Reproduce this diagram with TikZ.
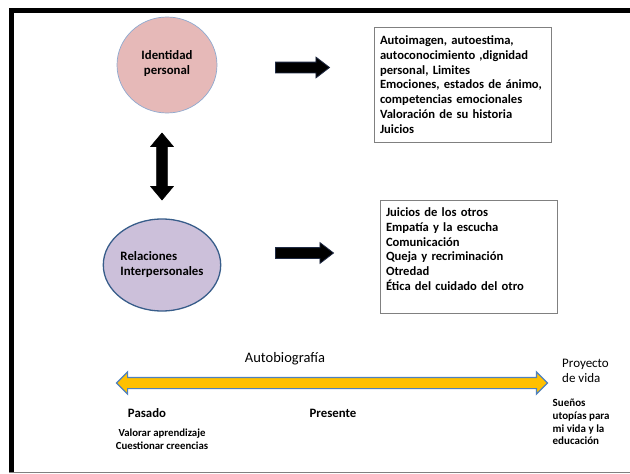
\documentclass[tikz,border=0pt]{standalone}
\usepackage{fontspec}
\setmainfont{Carlito}
\usetikzlibrary{shapes.geometric,shapes.arrows}
\definecolor{rosa}{HTML}{E6B9B8}
\definecolor{lila}{HTML}{CCC0DA}
\definecolor{bordeazul}{HTML}{385D8A}
\definecolor{bordeclaro}{HTML}{8EA9CF}
\definecolor{amarillo}{HTML}{FFC000}
\definecolor{azul}{HTML}{4F81BD}
\definecolor{marino}{HTML}{1F2A44}
\begin{document}
\begin{tikzpicture}[x=1pt,y=-1pt,
    tema/.style={ellipse,inner sep=0pt,font=\fontsize{12.8}{15}\selectfont\bfseries},
    lista/.style={draw=gray,line width=1pt,text width=165pt,inner xsep=6pt,inner ysep=6pt,align=left,
      font=\fontsize{12.6}{14.8}\selectfont\bfseries},
    flecha/.style={single arrow,fill=black,draw=marino,line width=0.8pt,inner xsep=0pt,inner ysep=5pt,
      minimum width=20pt,single arrow head extend=5pt,single arrow tip angle=75},
    etiqueta/.style={inner sep=0pt,align=left}]
      \tikzset{every node/.style={text=black}}
      \useasboundingbox (0,0) rectangle (630,474);
      \draw[gray,line width=1.5pt] (9,472.5) -- (630,472.5);
      \draw[line width=5pt,line join=miter] (11.5,472) -- (11.5,10) -- (630,10);
      \node[tema,fill=rosa,draw=bordeclaro,line width=0.7pt,minimum width=100pt,minimum height=96pt,align=center] (idper) at (167,65) {Identidad\\personal\\[-9pt]\mbox{}};
      \node[tema,fill=lila,draw=bordeazul,line width=1.3pt,minimum width=102pt,minimum height=92pt,align=left] (relint) at (162,265) {Relaciones\\Interpersonales};
      \node[flecha,minimum height=54pt] (fid) at (299,67.5) {};
      \node[flecha,minimum height=58pt] (frel) at (301,253) {};
      \node[lista,minimum height=115pt] (rasgos) at (462.5,84.5) {Autoimagen, autoestima,\\ autoconocimiento ,dignidad\\ personal, Limites\\ Emociones, estados de ánimo,\\ competencias emocionales\\ Valoración de su historia\\ Juicios};
      \node[lista,minimum height=113pt] (otros) at (468.5,256.5) {Juicios de los otros\\ Empatía y la escucha\\ Comunicación\\ Queja y recriminación\\ Otredad\\ Ética del cuidado del otro\\ \mbox{}};
      \node[double arrow,fill=black,draw=black,line width=0.6pt,rotate=90,inner xsep=0pt,inner ysep=5pt,minimum width=22pt,
        double arrow head extend=6pt,double arrow tip angle=80,minimum height=67pt] (vinculo) at (162,166.5) {};
      \node[double arrow,fill=amarillo,draw=azul,line width=1.2pt,inner xsep=0pt,inner ysep=5pt,minimum width=21pt,
        double arrow head extend=5.5pt,double arrow tip angle=90,minimum height=431pt] (tiempo) at (332,383) {};
      \node[font=\fontsize{14.5}{17}\selectfont] (autobio) at (285,359) {Autobiografía};
      \node[etiqueta,anchor=west,font=\fontsize{13}{15}\selectfont] (proyecto) at (562,370.5) {Proyecto\\de vida};
      \node[etiqueta,anchor=west,font=\fontsize{11}{12.6}\selectfont\bfseries] (suenos) at (552.5,422) {Sueños\\utopías para\\mi vida y la\\educación};
      \node[font=\fontsize{12.8}{15}\selectfont\bfseries] (pasado) at (147,413) {Pasado};
      \node[font=\fontsize{12.8}{15}\selectfont\bfseries] (presente) at (333,413) {Presente};
      \node[etiqueta,align=center,font=\fontsize{10.8}{13}\selectfont\bfseries] (valorar) at (162,439.5) {Valorar aprendizaje\\Cuestionar creencias};
\end{tikzpicture}
\end{document}
